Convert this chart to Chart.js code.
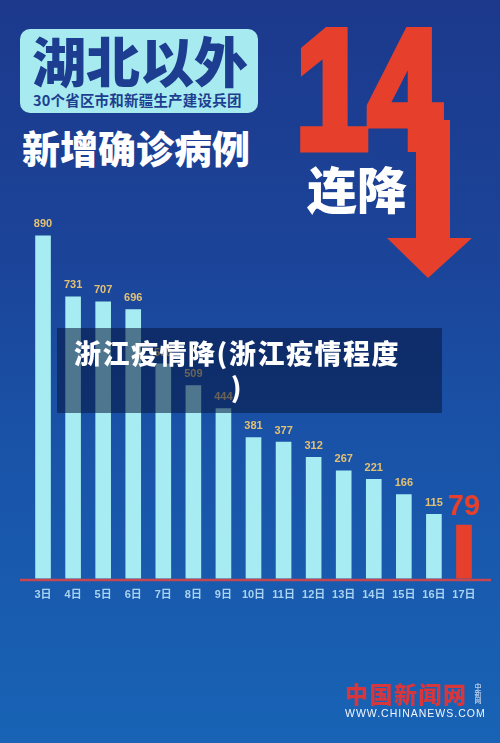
<!DOCTYPE html>
<html><head><meta charset="utf-8">
<script src="https://cdn.jsdelivr.net/npm/chart.js@4.4.1/dist/chart.umd.min.js"></script>
<style>
html,body{margin:0;padding:0;}
body{width:500px;height:743px;position:relative;overflow:hidden;
 background:linear-gradient(180deg,#1c398c 0%,#1b4499 35%,#1953a8 60%,#1863b5 100%);
 font-family:"Noto Sans CJK SC","Noto Sans",sans-serif;}
.abs{position:absolute;white-space:nowrap;}
#box{left:20px;top:29px;width:238px;height:84px;background:#a7ebf0;border-radius:10px;}
#t1{left:32px;top:33px;font-size:54px;line-height:54px;font-weight:900;color:#1d3e90;}
#t2{left:33px;top:91px;font-size:14.5px;line-height:18px;font-weight:700;color:#1d3e90;letter-spacing:0.2px;}
#t3{left:22px;top:126px;font-size:38px;line-height:42px;font-weight:900;color:#ffffff;}
#t4{left:307px;top:160px;font-size:50px;line-height:54px;font-weight:900;color:#ffffff;}
#chartwrap{position:absolute;left:0;top:0;width:500px;height:743px;}
#ov{left:57px;top:328px;width:385px;height:85px;background:rgba(6,22,62,0.55);}
#ovt{left:57px;top:336px;width:360px;text-align:center;color:#fff;font-size:27px;line-height:34px;font-weight:900;letter-spacing:1.5px;}
#wm1{left:345px;top:680px;font-size:23px;line-height:26px;font-weight:900;color:#d9363c;letter-spacing:1.5px;}
#wm2{left:474px;top:683px;font-size:7px;line-height:8px;color:#e8eef8;writing-mode:vertical-rl;}
#wm3{left:345px;top:707px;font-family:"Liberation Sans",Arial,sans-serif;font-size:10.5px;line-height:12px;color:#f2f6fb;letter-spacing:1px;}
</style></head>
<body>
<div class="abs" id="box"></div>
<div class="abs" id="t1">湖北以外</div>
<div class="abs" id="t2">30个省区市和新疆生产建设兵团</div>
<div class="abs" id="t3">新增确诊病例</div>
<svg class="abs" style="left:0;top:0" width="500" height="743">
 <polygon points="416,120 450,120 450,238 472,238 428,278 387,238 416,238" fill="#e6402c"/>
 <text x="0" y="0" transform="translate(295.5,148) scale(0.78,1)" font-family="Liberation Sans" font-weight="700" font-size="168" fill="#e6402c" stroke="#e6402c" stroke-width="9" stroke-linejoin="miter">14</text>
</svg>
<div class="abs" id="t4">连降</div>
<div id="chartwrap"><canvas id="c" width="500" height="743"></canvas></div>
<div class="abs" id="ov"></div>
<div class="abs" id="ovt">浙江疫情降(浙江疫情程度<br>)</div>
<div class="abs" id="wm1">中国新闻网</div>
<div class="abs" id="wm2">中新网</div>
<div class="abs" id="wm3">WWW.CHINANEWS.COM</div>
<script>
const days = ['3日','4日','5日','6日','7日','8日','9日','10日','11日','12日','13日','14日','15日','16日','17日'];
const caseCounts = [890,731,707,696,558,509,444,381,377,312,267,221,166,115,79];
// bar heights as drawn in the picture (read on the 890-bar scale)
const barLevels = [890,732,719,699,558,502,442,367,355,316,281,259,219,168,140];
const barColor = '#a7ecf2';
const lastColor = '#e6402c';

const baseline = {
  id:'baseline',
  afterDatasetsDraw(chart){
    const {ctx, chartArea, scales} = chart;
    const y = scales.y.getPixelForValue(0) + 1.2;
    ctx.save();
    ctx.strokeStyle = '#c44752';
    ctx.lineWidth = 2.5;
    ctx.beginPath();
    ctx.moveTo(chartArea.left - 8, y);
    ctx.lineTo(chartArea.right + 12, y);
    ctx.stroke();
    ctx.restore();
  }
};
const valueLabels = {
  id:'valueLabels',
  afterDatasetsDraw(chart){
    const {ctx} = chart;
    const meta = chart.getDatasetMeta(0);
    ctx.save();
    ctx.textAlign = 'center';
    ctx.textBaseline = 'alphabetic';
    meta.data.forEach((bar, i) => {
      const last = i === meta.data.length - 1;
      if (last) {
        ctx.font = 'bold 29px "Liberation Sans", Arial, sans-serif';
        ctx.fillStyle = lastColor;
        ctx.fillText(String(caseCounts[i]), bar.x, bar.y - 10);
      } else {
        ctx.font = 'bold 11px "Liberation Sans", Arial, sans-serif';
        ctx.fillStyle = '#e4c172';
        ctx.fillText(String(caseCounts[i]), bar.x, bar.y - 8);
      }
    });
    ctx.restore();
  }
};

new Chart(document.getElementById('c'), {
  type:'bar',
  data:{
    labels: days,
    datasets:[{
      data: barLevels,
      backgroundColor: barLevels.map((v,i)=> i===barLevels.length-1 ? lastColor : barColor),
      borderWidth:0,
      barPercentage:0.52,
      categoryPercentage:1
    }]
  },
  options:{
    responsive:false,
    animation:false,
    layout:{padding:{left:28,right:21,top:193,bottom:131}},
    plugins:{legend:{display:false},tooltip:{enabled:false}},
    scales:{
      x:{
        grid:{display:false,drawTicks:false},
        border:{display:false},
        ticks:{color:'#a9d3f0',padding:10,autoSkip:false,maxRotation:0,
          font:{size:11,weight:'bold',family:'"Liberation Sans", "Noto Sans CJK SC", sans-serif'}}
      },
      y:{display:false,min:0,max:1000}
    }
  },
  plugins:[baseline,valueLabels]
});
</script>
</body></html>
